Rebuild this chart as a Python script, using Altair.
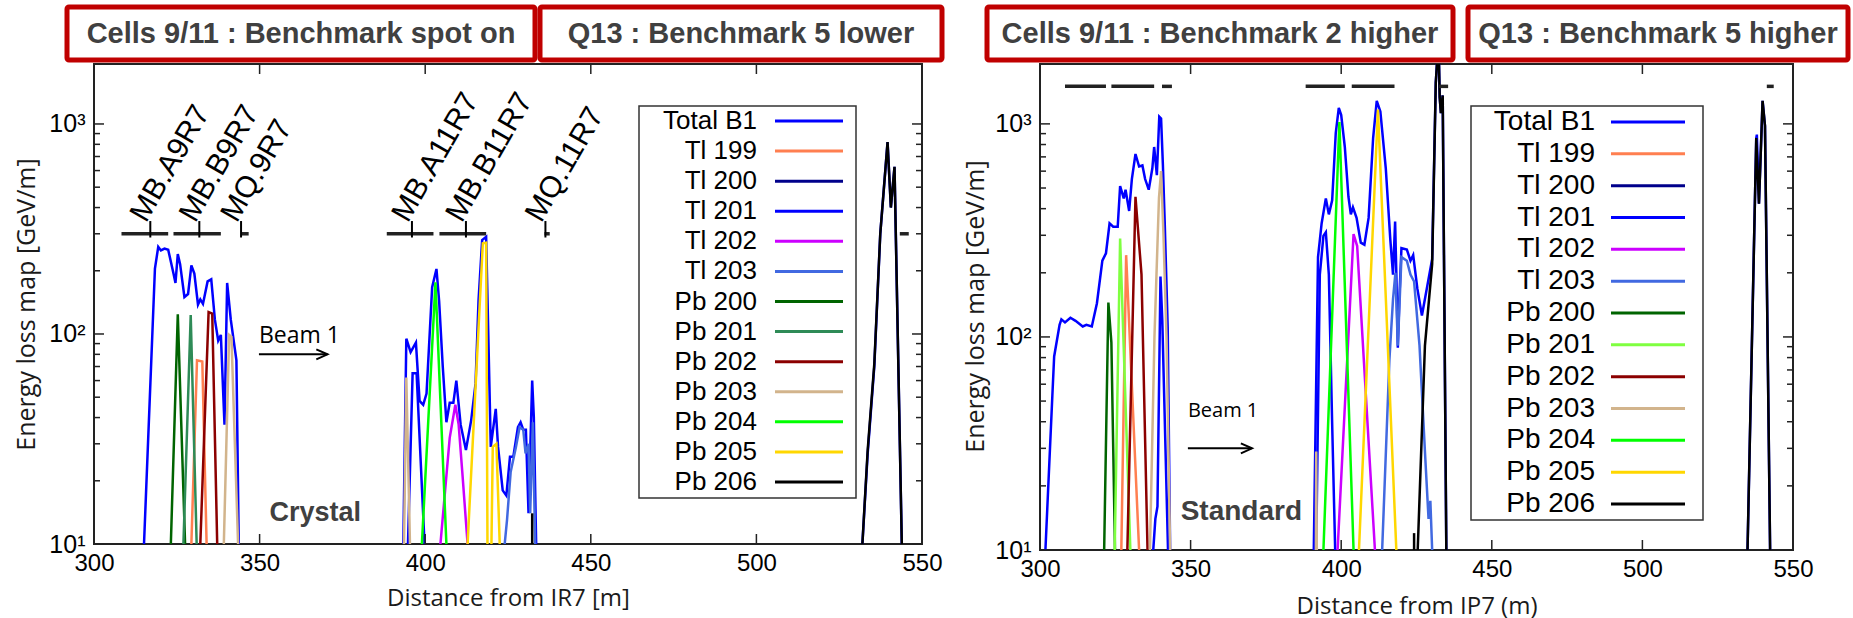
import altair as alt
import pandas as pd

# ---------------- legend / series ----------------
SERIES = ["Total B1", "Tl 199", "Tl 200", "Tl 201", "Tl 202", "Tl 203",
          "Pb 200", "Pb 201", "Pb 202", "Pb 203", "Pb 204", "Pb 205", "Pb 206"]
COLORS_CRYSTAL = ["#0000FF", "#FF7F50", "#00008B", "#0000FF", "#CC00FF", "#4169E1",
                  "#006400", "#2E8B57", "#8B0000", "#D2B48C", "#00FF00", "#FFD700", "#000000"]
COLORS_STANDARD = ["#0000FF", "#FF7F50", "#00008B", "#0000FF", "#CC00FF", "#4169E1",
                   "#006400", "#7FFF40", "#8B0000", "#D2B48C", "#00FF00", "#FFD700", "#000000"]

X_TICKS = [300, 350, 400, 450, 500, 550]
X_INNER_TICKS = [350, 400, 450, 500]
Y_MAJOR = [10, 100, 1000]
Y_MINOR = [20, 30, 40, 50, 60, 70, 80, 90, 200, 300, 400, 500, 600, 700, 800, 900]

# ---------------- Crystal panel (left) ----------------
CR_TOTAL = [
    [(315.1, 10), (318.4, 205), (319.4, 260), (320.2, 250), (321.3, 255), (322.4, 252), (324.0, 194),
     (324.6, 175), (325.3, 240), (326.0, 215), (327.3, 150), (328.4, 155), (329.4, 212), (330.3, 194),
     (331.4, 138), (332.1, 146), (332.9, 139), (334.3, 178), (335.4, 182), (336.5, 117), (337.5, 93),
     (338.3, 99), (339.4, 37), (340.2, 175), (341.3, 117), (343.0, 75), (343.7, 10)],
    [(393.4, 10), (394.3, 95), (395.6, 82), (397.2, 91), (398.3, 48), (399.4, 46), (400.4, 52),
     (402.1, 167), (403.4, 204), (404.2, 144), (405.3, 70), (406.4, 38), (407.4, 47), (408.5, 47),
     (409.4, 60), (410.7, 37), (412.3, 28), (413.9, 39), (415.2, 58), (416.1, 144), (417.2, 280),
     (418.4, 290), (419.8, 29), (421.3, 44), (422.0, 29), (423.4, 18), (424.5, 17), (425.6, 26),
     (426.6, 26), (428.0, 36), (428.8, 38), (429.6, 35), (430.4, 35), (431.2, 14), (432.3, 60),
     (432.8, 40), (433.5, 10)],
    [(532.0, 10), (533.6, 27), (535.6, 70), (537.4, 300), (539.6, 820), (540.6, 400), (541.7, 625),
     (543.9, 10)],
]
CR_TL199 = [[(329.4, 10), (331.1, 75), (332.7, 74), (334.0, 10)]]
CR_TL200 = []
CR_TL201 = [[(394.8, 10), (396.2, 65), (397.4, 65), (399.8, 10)]]
CR_TL202 = [[(404.6, 10), (407.4, 32), (409.1, 46), (410.1, 37), (411.2, 22), (412.8, 10)]]
CR_TL203 = [[(424.0, 10), (424.7, 13), (425.8, 22), (427.4, 29), (428.5, 36), (429.6, 35), (430.3, 27),
             (431.2, 30), (431.7, 14), (432.5, 38), (433.2, 10)]]
CR_PB200 = [[(323.2, 10), (325.3, 124), (327.5, 10)]]
CR_PB201 = [[(327.0, 10), (329.2, 123), (331.0, 10)]]
CR_PB202 = [[(332.1, 10), (334.6, 127), (335.7, 125), (337.2, 10)]]
CR_PB203 = [[(339.2, 10), (340.8, 99), (341.5, 97), (343.5, 10)],
            [(393.6, 10), (394.3, 62), (395.4, 10)]]
CR_PB204 = [[(399.0, 10), (403.1, 176), (406.4, 10)]]
CR_PB205 = [[(412.8, 10), (417.4, 270), (418.4, 272), (418.8, 10)],
            [(420.0, 10), (420.4, 29), (421.5, 30), (422.5, 10)]]
CR_PB206 = [[(432.3, 10), (432.3, 14)],
            [(532.0, 10), (533.6, 28), (535.6, 72), (537.4, 300), (539.6, 820), (540.6, 400),
             (541.7, 625), (543.9, 10)]]

CR_MAG_START = [308.3, 324.0, 344.4, 388.4, 404.3, 436.0, 543.3]
CR_MAG_END = [322.4, 338.3, 346.7, 402.5, 418.4, 437.6, 546.0]
CR_MAG_LEVEL = 300
CR_MAG_NAMES = ["MB.A9R7", "MB.B9R7", "MQ.9R7", "MB.A11R7", "MB.B11R7", "MQ.11R7"]
CR_MAG_LABEL_X = [317.0, 331.8, 344.4, 396.0, 412.3, 436.3]

# ---------------- Standard panel (right) ----------------
ST_TOTAL = [
    [(301.8, 10), (304.1, 53), (304.7, 81), (306.5, 114), (307.1, 121), (308.3, 117), (310.1, 123),
     (311.8, 119), (314.2, 112), (315.4, 114), (317.2, 112), (318.9, 144), (320.7, 228), (321.9, 247),
     (323.1, 341), (324.3, 329), (325.8, 329), (326.6, 511), (327.8, 447), (328.4, 491), (329.6, 390),
     (330.5, 551), (331.7, 722), (332.9, 631), (334.0, 638), (334.9, 551), (336.1, 491), (337.3, 619),
     (337.9, 779), (338.8, 574), (339.6, 1080), (340.2, 1059), (340.8, 643), (341.4, 348), (342.4, 110),
     (343.2, 10)],
    [(390.9, 10), (392.3, 237), (393.5, 341), (394.9, 447), (395.9, 376), (397.0, 438), (398.2, 908),
     (399.2, 1188), (400.0, 1100), (401.2, 779), (402.4, 455), (403.2, 376), (403.9, 406), (405.1, 362),
     (406.5, 277), (407.7, 271), (409.1, 362), (410.6, 858), (411.8, 1283), (413.0, 1144), (414.8, 619),
     (416.3, 287), (417.2, 196), (417.9, 348), (418.3, 200), (418.8, 89), (419.3, 150), (420.0, 261),
     (421.8, 257), (423.0, 228), (423.9, 242), (425.3, 168), (426.8, 126), (428.4, 168), (430.2, 232),
     (431.4, 1560), (432.3, 2500), (432.7, 1333), (433.1, 1122), (433.7, 1360), (434.9, 10)],
    [(534.9, 10), (537.8, 858), (538.0, 890), (538.7, 422), (539.9, 1283), (540.7, 980), (542.4, 10)],
]
ST_TL199 = [[(327.0, 10), (328.6, 242), (332.9, 10)]]
ST_TL200 = []
ST_TL201 = [[(337.6, 10), (338.3, 14), (339.0, 16), (340.0, 192), (340.6, 120), (342.5, 10)],
            [(391.7, 10), (392.9, 196), (394.1, 298), (394.9, 310), (395.9, 196), (397.0, 39), (398.0, 10)]]
ST_TL202 = [[(398.8, 10), (404.1, 304), (405.3, 267), (411.2, 10)]]
ST_TL203 = [[(413.6, 10), (416.0, 78), (417.2, 150), (418.0, 200), (418.8, 91), (420.0, 237), (421.8, 228),
             (423.0, 196), (424.2, 182), (426.0, 91), (427.8, 29), (429.0, 14), (429.6, 17), (430.2, 10)]]
ST_PB200 = [[(321.3, 10), (322.7, 145), (323.7, 94), (324.9, 10)]]
ST_PB201 = [[(324.8, 10), (326.6, 290), (330.0, 10)]]
ST_PB202 = [[(329.0, 10), (331.7, 455), (333.7, 196), (335.7, 10)]]
ST_PB203 = [[(336.5, 10), (338.0, 100), (339.5, 450), (340.2, 600), (341.0, 300), (342.0, 100), (343.2, 10)],
            [(391.6, 10), (391.7, 29), (391.9, 10)]]
ST_PB204 = [[(394.1, 10), (399.4, 1020), (404.1, 10)]]
ST_PB205 = [[(405.9, 10), (412.2, 1166), (418.3, 10)]]
ST_PB206 = [[(424.2, 10), (424.2, 12)],
            [(425.4, 10), (427.8, 91), (430.2, 220), (431.4, 1560), (432.3, 2500), (432.7, 1333),
             (433.1, 1122), (433.7, 1360), (434.9, 10)],
            [(534.9, 10), (537.8, 858), (538.7, 422), (539.9, 1283), (540.7, 980), (542.4, 10)]]

ST_MAG_START = [308.3, 323.7, 340.5, 388.2, 403.5, 432.5, 541.3]
ST_MAG_END = [321.9, 337.9, 343.8, 401.2, 417.7, 435.5, 543.6]
ST_MAG_LEVEL = 1500

BOX_TEXTS = ["Cells 9/11 : Benchmark spot on", "Q13 : Benchmark 5 lower",
             "Cells 9/11 : Benchmark 2 higher", "Q13 : Benchmark 5 higher"]

TICK_FONT = "Liberation Sans"
TITLE_FONT = "Open Sans"


def lines_frame(pairs):
    rows = []
    for name, segs in pairs:
        for si, seg in enumerate(segs):
            for i, (x, y) in enumerate(seg):
                rows.append({"series": name, "seg": f"{name}-{si}", "i": i, "x": x, "y": y})
    return pd.DataFrame(rows)


ONE = pd.DataFrame({"k": [0]})


def panel(df, colors, W, H, ymax, xtitle, xtitle_y, ytitle_x, ytitle_y,
          mag_start, mag_end, mag_level, legend_geo, boxes, beam, label_text, mag_labels=None):
    xs = alt.Scale(domain=[300, 550], nice=False, zero=False)
    ys = alt.Scale(type="log", domain=[10, ymax], nice=False)
    cs = alt.Scale(domain=SERIES, range=colors)

    xaxis = alt.Axis(values=X_TICKS, format="d", domain=False, ticks=False, tickSize=0, grid=False,
                     labelFont=TICK_FONT, labelFontSize=24, labelColor="black", labelPadding=7,
                     labelFlush=False, labelOverlap=False,
                     title=xtitle, titleFont=TITLE_FONT, titleFontSize=24, titleFontWeight="normal",
                     titleColor="#1a1a1a", titleY=xtitle_y, titleBaseline="middle")
    yaxis = alt.Axis(values=Y_MAJOR, domain=False, ticks=False, tickSize=0, grid=False,
                     labelExpr="datum.value == 10 ? '10¹' : datum.value == 100 ? '10²' : '10³'",
                     labelFont=TICK_FONT, labelFontSize=25, labelColor="black", labelPadding=9,
                     title="Energy loss map [GeV/m]", titleFont=TITLE_FONT, titleFontSize=25,
                     titleFontWeight="normal", titleColor="#1a1a1a", titleAngle=270,
                     titleX=ytitle_x, titleY=ytitle_y, titleAlign="center", titleBaseline="middle")

    layers = []
    layers.append(
        alt.Chart(df).mark_line(strokeWidth=2.5, clip=True).encode(
            x=alt.X("x:Q", scale=xs, axis=xaxis),
            y=alt.Y("y:Q", scale=ys, axis=yaxis),
            color=alt.Color("series:N", scale=cs, legend=None),
            detail="seg:N",
            order="i:Q",
        )
    )
    # magnet bars
    mag = pd.DataFrame({"s": mag_start, "e": mag_end, "lvl": [mag_level] * len(mag_start)})
    layers.append(
        alt.Chart(mag).mark_rule(strokeWidth=3.5, color="#222").encode(
            x=alt.X("s:Q", scale=xs, axis=None), x2="e:Q",
            y=alt.Y("lvl:Q", scale=ys, axis=None))
    )
    if mag_labels is not None:
        names, lx = mag_labels
        ml = pd.DataFrame({"name": names, "x": lx, "lo": [mag_level * 0.96] * len(names),
                           "hi": [mag_level * 1.15] * len(names), "ty": [mag_level * 1.06] * len(names)})
        layers.append(
            alt.Chart(ml).mark_rule(strokeWidth=2, color="black").encode(
                x=alt.X("x:Q", scale=xs, axis=None),
                y=alt.Y("lo:Q", scale=ys, axis=None), y2="hi:Q"))
        layers.append(
            alt.Chart(ml).mark_text(angle=300, align="left", baseline="bottom", font=TICK_FONT,
                                    fontSize=30, color="black", dx=2).encode(
                x=alt.X("x:Q", scale=xs, axis=None),
                y=alt.Y("ty:Q", scale=ys, axis=None), text="name:N"))

    # inward ticks
    ymaj = pd.DataFrame({"v": Y_MAJOR})
    ymin = pd.DataFrame({"v": Y_MINOR})
    xin = pd.DataFrame({"v": X_INNER_TICKS})
    for d, L in ((ymaj, 10), (ymin, 6)):
        layers.append(alt.Chart(d).mark_rule(strokeWidth=1.5, color="#222").encode(
            y=alt.Y("v:Q", scale=ys, axis=None), x=alt.value(0), x2=alt.value(L)))
        layers.append(alt.Chart(d).mark_rule(strokeWidth=1.5, color="#222").encode(
            y=alt.Y("v:Q", scale=ys, axis=None), x=alt.value(W - L), x2=alt.value(W)))
    layers.append(alt.Chart(xin).mark_rule(strokeWidth=1.5, color="#222").encode(
        x=alt.X("v:Q", scale=xs, axis=None), y=alt.value(H - 10), y2=alt.value(H)))
    layers.append(alt.Chart(xin).mark_rule(strokeWidth=1.5, color="#222").encode(
        x=alt.X("v:Q", scale=xs, axis=None), y=alt.value(0), y2=alt.value(10)))

    # Beam arrow and labels
    bx0, bx1, by, ty, bsize, lt_x, lt_y, lt_size = beam
    bdf = pd.DataFrame({"x0": [bx0], "x1": [bx1], "y": [by], "ty": [ty], "t": ["Beam 1"],
                        "lx": [lt_x], "ly": [lt_y], "lt": [label_text]})
    layers.append(alt.Chart(bdf).mark_rule(strokeWidth=2, color="black").encode(
        x=alt.X("x0:Q", scale=xs, axis=None), x2="x1:Q", y=alt.Y("y:Q", scale=ys, axis=None)))
    layers.append(alt.Chart(bdf).mark_point(shape="M -1 -0.45 L 0 0 L -1 0.45", filled=False,
                                            strokeWidth=2, color="black", size=500, opacity=1).encode(
        x=alt.X("x1:Q", scale=xs, axis=None), y=alt.Y("y:Q", scale=ys, axis=None)))
    layers.append(alt.Chart(bdf).mark_text(align="left", baseline="middle", font=TITLE_FONT,
                                           fontSize=bsize, color="black").encode(
        x=alt.X("x0:Q", scale=xs, axis=None), y=alt.Y("ty:Q", scale=ys, axis=None), text="t:N"))
    layers.append(alt.Chart(bdf).mark_text(align="left", baseline="middle", font=TICK_FONT,
                                           fontWeight="bold", fontSize=lt_size, color="#404040").encode(
        x=alt.X("lx:Q", scale=xs, axis=None), y=alt.Y("ly:Q", scale=ys, axis=None), text="lt:N"))

    # legend drawn through a point scale
    lx0, lx1, ly0, ly1, lab_x, sym0, sym1, r0, r1, lfs = legend_geo
    layers.append(alt.Chart(ONE).mark_rect(fill="white", stroke="#333", strokeWidth=1.5).encode(
        x=alt.value(lx0), x2=alt.value(lx1), y=alt.value(ly0), y2=alt.value(ly1)))
    leg = pd.DataFrame({"series": SERIES})
    lyenc = alt.Y("series:N", scale=alt.Scale(type="point", domain=SERIES, range=[r0, r1], padding=0),
                  axis=None)
    layers.append(alt.Chart(leg).mark_text(align="right", baseline="middle", font=TICK_FONT,
                                           fontSize=lfs, color="black").encode(
        y=lyenc, x=alt.value(lab_x), text="series:N"))
    layers.append(alt.Chart(leg).mark_rule(strokeWidth=3).encode(
        y=lyenc, x=alt.value(sym0), x2=alt.value(sym1),
        color=alt.Color("series:N", scale=cs, legend=None)))

    # red title boxes above the panel
    for (bxa, bxb, text) in boxes:
        layers.append(alt.Chart(ONE).mark_rect(fill="white", stroke="#C00000", strokeWidth=5,
                                               cornerRadius=2).encode(
            x=alt.value(bxa), x2=alt.value(bxb), y=alt.value(-57), y2=alt.value(-4)))
        layers.append(alt.Chart(ONE).mark_text(align="center", baseline="middle", font=TICK_FONT,
                                               fontWeight="bold", fontSize=29, color="#404040").encode(
            x=alt.value((bxa + bxb) / 2), y=alt.value(-30), text=alt.value(text)))

    return alt.layer(*layers).resolve_scale(x="independent", y="independent").properties(width=W, height=H)


cr_df = lines_frame([("Total B1", CR_TOTAL), ("Tl 199", CR_TL199), ("Tl 200", CR_TL200),
                     ("Tl 201", CR_TL201), ("Tl 202", CR_TL202), ("Tl 203", CR_TL203),
                     ("Pb 200", CR_PB200), ("Pb 201", CR_PB201), ("Pb 202", CR_PB202),
                     ("Pb 203", CR_PB203), ("Pb 204", CR_PB204), ("Pb 205", CR_PB205),
                     ("Pb 206", CR_PB206)])
st_df = lines_frame([("Total B1", ST_TOTAL), ("Tl 199", ST_TL199), ("Tl 200", ST_TL200),
                     ("Tl 201", ST_TL201), ("Tl 202", ST_TL202), ("Tl 203", ST_TL203),
                     ("Pb 200", ST_PB200), ("Pb 201", ST_PB201), ("Pb 202", ST_PB202),
                     ("Pb 203", ST_PB203), ("Pb 204", ST_PB204), ("Pb 205", ST_PB205),
                     ("Pb 206", ST_PB206)])

left = panel(cr_df, COLORS_CRYSTAL, 828, 480, 1930, "Distance from IR7 [m]", 54, -68, 240,
             CR_MAG_START, CR_MAG_END, CR_MAG_LEVEL,
             (545, 762, 42, 434, 663, 681, 749, 57, 418, 26),
             [(-27, 441, BOX_TEXTS[0]), (446, 848, BOX_TEXTS[1])],
             (349.8, 370.5, 80, 98, 23, 353, 14, 27), "Crystal",
             mag_labels=(CR_MAG_NAMES, CR_MAG_LABEL_X))
right = panel(st_df, COLORS_STANDARD, 753, 486, 1910, "Distance from IP7 (m)", 56, -65, 242,
              ST_MAG_START, ST_MAG_END, ST_MAG_LEVEL,
              (431, 663, 42, 456, 555, 571, 645, 58, 440, 28),
              [(-53, 413, BOX_TEXTS[2]), (428, 808, BOX_TEXTS[3])],
              (349.1, 370.4, 30, 45, 20, 346.7, 15, 28), "Standard")

chart = alt.hconcat(left, right, spacing=15).resolve_scale(color="independent").properties(
    padding={"left": 12, "top": 3, "right": 0, "bottom": 0}
).configure_view(stroke="#222", strokeWidth=2)

chart.save("out.html", embed_options={"renderer": "svg", "actions": False})
